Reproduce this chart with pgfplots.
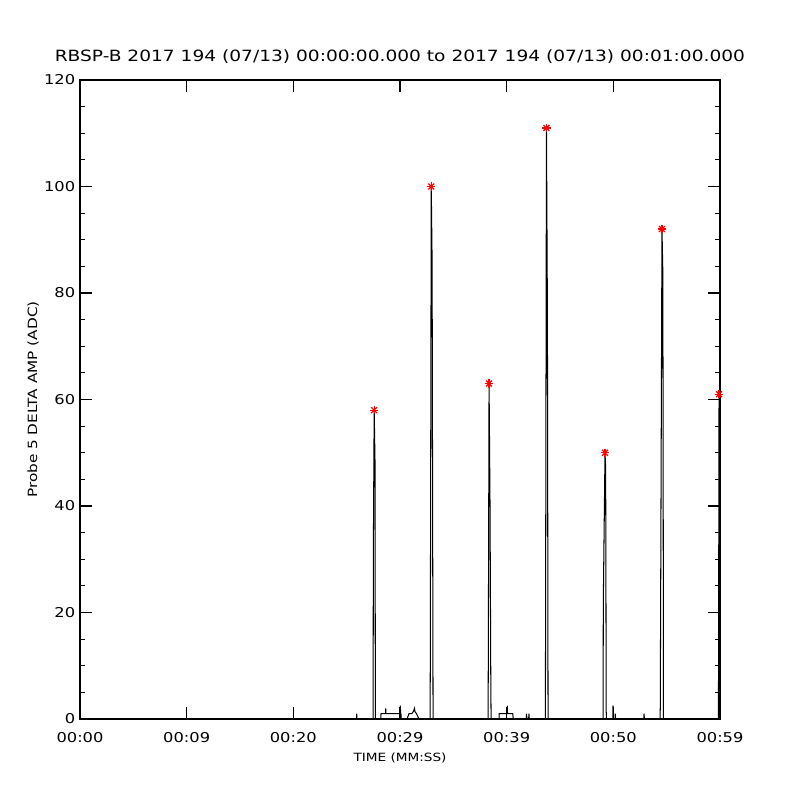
\documentclass[border=0pt]{standalone}
\usepackage{fontspec}
\setmainfont{DejaVu Sans}[FakeStretch=1.2]
\usepackage{pgfplots}
\pgfplotsset{compat=1.18}
\begin{document}
\begin{tikzpicture}
\useasboundingbox (0,0) rectangle (8in,8in);
\begin{axis}[
    at={(0.80in,0.81in)}, anchor=south west,
    scale only axis,
    width=6.40in, height=6.39in,
    xmin=0, xmax=60, ymin=0, ymax=120,
    xtick={0,10,20,30,40,50,60},
    xticklabels={00:00,00:09,00:20,00:29,00:39,00:50,00:59},
    ytick={0,20,40,60,80,100,120},
    minor y tick num=3,
    major tick length=0.12in,
    minor tick length=0.05in,
    every tick/.style={black, line width=0.75pt},
    axis line style={line width=0.75pt},
    tick label style={font=\fontsize{9.8}{12}\selectfont},
    xticklabel style={yshift=-6.5pt},
    /pgf/number format/assume math mode=true,
    title={RBSP-B 2017 194 (07/13) 00:00:00.000 to 2017 194 (07/13) 00:01:00.000},
    title style={at={(axis description cs:0.5,1.0235)}, anchor=center, yshift=0pt,
        font=\fontsize{11.2}{13}\selectfont},
    xlabel={TIME (MM:SS)},
    xlabel style={at={(axis description cs:0.5,-0.061)}, anchor=center,
        font=\fontsize{8.2}{10}\selectfont},
    ylabel={Probe 5 DELTA AMP (ADC)},
    ylabel style={at={(axis description cs:-0.0734,0.5)}, anchor=center,
        font=\fontsize{9.2}{11}\selectfont},
]
\addplot[black, line width=0.75pt, sharp plot, mark=none] coordinates {
(0,0)
(25.92,0)(25.94,1)(25.96,0)
(27.48,0)(27.50,31)(27.58,58)(27.66,48)(27.69,0)
(28.20,0)(28.22,1)(28.64,1)(28.66,2)(28.68,1)(30.01,1)(30.03,2.5)(30.06,1)(30.09,1)(30.11,0)
(30.66,0)(30.84,1)(31.10,1)(31.25,1.4)(31.36,2)(31.40,1.4)(31.55,1)(31.78,0)
(32.82,0)(32.84,10)(32.93,100)(33.01,86)(33.06,38)(33.10,0)
(38.26,0)(38.28,12)(38.35,63)(38.44,40)(38.51,8)(38.54,0)
(39.28,0)(39.30,1)(40.04,1)(40.06,2.5)(40.08,1)(40.57,1)(40.62,0)
(41.83,0)(41.86,1)(41.90,0)(42.06,0)(42.09,1)(42.12,0)
(43.63,0)(43.65,21)(43.73,111)(43.82,76)(43.88,0)
(49.04,0)(49.06,22)(49.22,50)(49.28,47)(49.31,22)(49.33,1.5)(49.36,0)
(49.95,0)(49.97,2.5)(50.00,0)(50.16,0)(50.18,1)(50.21,0)
(52.85,0)(52.88,1)(52.91,0)
(54.38,0)(54.40,2)(54.56,92)(54.64,84)(54.67,50)(54.70,0)
(59.84,0)(59.86,6.4)(59.91,61)(60,61)
};
\addplot[red, only marks, mark=+, mark size=3pt, mark options={line width=0.9pt}] coordinates {
(27.58,58)(32.93,100)(38.35,63)(43.73,111)(49.22,50)(54.56,92)(59.91,61)
};
\addplot[red, only marks, mark=x, mark size=3pt, mark options={line width=0.9pt}] coordinates {
(27.58,58)(32.93,100)(38.35,63)(43.73,111)(49.22,50)(54.56,92)(59.91,61)
};
\end{axis}
\end{tikzpicture}
\end{document}
